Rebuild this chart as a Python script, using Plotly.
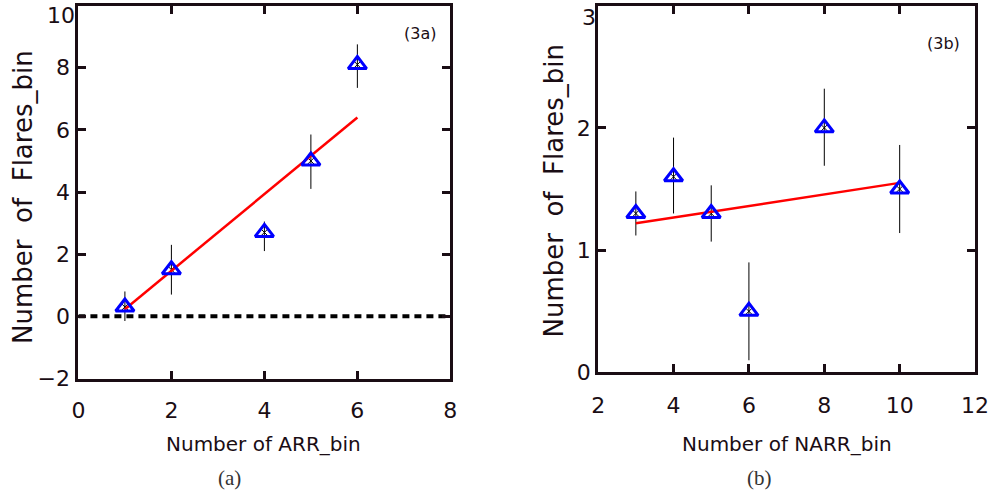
import plotly.graph_objects as go

# Panel (a)
arr_x = [1, 2, 4, 5, 6]
arr_y = [0.3, 1.5, 2.7, 5.0, 8.1]
arr_err_plus = [0.5, 0.8, 0.35, 0.85, 0.65]
arr_err_minus = [0.45, 0.8, 0.6, 0.9, 0.75]
arr_fit_x = [1, 6]
arr_fit_y = [0.23, 6.4]

# Panel (b)
narr_x = [3, 4, 5, 6, 8, 10]
narr_y = [1.3, 1.6, 1.3, 0.5, 2.0, 1.5]
narr_err_plus = [0.18, 0.32, 0.23, 0.4, 0.32, 0.36]
narr_err_minus = [0.18, 0.3, 0.23, 0.4, 0.31, 0.36]
narr_fit_x = [3, 10]
narr_fit_y = [1.22, 1.55]

W, H = 999, 492
# observed page mapping (picture = offset + scale * layout)
OX, SX = 6.0, 0.987
OY, SY = -0.5, 0.971


def px(t):
    return (t - OX) / SX / W


def py(t):
    return 1 - (t - OY) / SY / H


AX = "#1a0d14"
TICKFONT = dict(family="DejaVu Sans", size=22, color=AX)

fig = go.Figure()


def add_panel(xs, ys, ep, em, fx, fy, xa, ya, zero=False):
    if zero:
        fig.add_trace(go.Scatter(x=[0, 8], y=[0, 0], mode="lines",
                                 line=dict(color="black", width=4, dash="7px,5px"),
                                 xaxis=xa, yaxis=ya, showlegend=False))
    fig.add_trace(go.Scatter(x=xs, y=ys, mode="markers",
                             marker=dict(symbol="x-thin-open", size=7, color="black",
                                         line=dict(width=1, color="black")),
                             error_y=dict(type="data", symmetric=False, array=ep, arrayminus=em,
                                          color="black", thickness=1, width=0),
                             xaxis=xa, yaxis=ya, showlegend=False))
    fig.add_trace(go.Scatter(x=fx, y=fy, mode="lines",
                             line=dict(color="#ff0000", width=2.5),
                             xaxis=xa, yaxis=ya, showlegend=False))
    fig.add_trace(go.Scatter(x=xs, y=ys, mode="markers",
                             marker=dict(symbol="triangle-up-open", size=16, color="#0000ff",
                                         line=dict(width=3, color="#0000ff")),
                             xaxis=xa, yaxis=ya, showlegend=False))


add_panel(arr_x, arr_y, arr_err_plus, arr_err_minus, arr_fit_x, arr_fit_y, "x", "y", zero=True)
add_panel(narr_x, narr_y, narr_err_plus, narr_err_minus, narr_fit_x, narr_fit_y, "x2", "y2")

axis_common = dict(showline=True, linewidth=3, linecolor=AX, mirror="ticks",
                   ticks="inside", ticklen=8, tickwidth=3, tickcolor=AX,
                   showgrid=False, zeroline=False, tickfont=TICKFONT)

fig.update_layout(
    width=W, height=H, margin=dict(l=0, r=0, t=0, b=0),
    paper_bgcolor="white", plot_bgcolor="white",
    xaxis=dict(domain=[px(78), px(453)], range=[0, 8], tickvals=[0, 2, 4, 6, 8],
               anchor="y", ticklabelstandoff=10, **axis_common),
    yaxis=dict(domain=[py(377), py(5)], range=[-2, 10],
               tickvals=[-2, 0, 2, 4, 6, 8, 10], ticktext=["−2", "0", "2", "4", "6", "8", ""],
               anchor="x", ticklabelstandoff=1, **axis_common),
    xaxis2=dict(domain=[px(602), px(982)], range=[2, 12], tickvals=[2, 4, 6, 8, 10, 12],
                anchor="y2", ticklabelstandoff=11, **axis_common),
    yaxis2=dict(domain=[py(371), py(5)], range=[0, 3], tickvals=[0, 1, 2, 3],
                ticktext=["0", "1", "2", ""],
                anchor="x2", ticklabelstandoff=0, **axis_common),
)

TITLEFONT = dict(family="DejaVu Sans", size=20, color=AX)
YTITLEFONT = dict(family="DejaVu Sans", size=26, color=AX)
ann = [
    dict(text="Number of ARR_bin", x=px(265), y=py(442), font=TITLEFONT),
    dict(text="Number of NARR_bin", x=px(792), y=py(442), font=TITLEFONT),
    dict(text="Number  of  Flares_bin", x=px(22), y=py(196), textangle=-90, font=YTITLEFONT),
    dict(text="Number  of  Flares_bin", x=px(557), y=py(190), textangle=-90, font=YTITLEFONT),
    dict(text="(3a)", x=px(422), y=py(33), font=dict(family="DejaVu Sans", size=16, color=AX)),
    dict(text="(3b)", x=px(950), y=py(43), font=dict(family="DejaVu Sans", size=16, color=AX)),
    dict(text="(a)", x=px(230), y=py(476), font=dict(family="Liberation Serif", size=21, color="#333")),
    dict(text="(b)", x=px(765), y=py(476), font=dict(family="Liberation Serif", size=21, color="#333")),
]
for a in ann:
    a.update(xref="paper", yref="paper", showarrow=False, xanchor="center", yanchor="middle")
# top tick labels, pushed down to stay inside the page
ann.append(dict(text="10", xref="x domain", x=0, xanchor="right", xshift=-1, yref="y", y=10,
                yanchor="middle", yshift=-10, showarrow=False, font=TICKFONT))
ann.append(dict(text="3", xref="x2 domain", x=0, xanchor="right", xshift=0, yref="y2", y=3,
                yanchor="middle", yshift=-12, showarrow=False, font=TICKFONT))
fig.update_layout(annotations=ann)

fig.write_html("out.html")
